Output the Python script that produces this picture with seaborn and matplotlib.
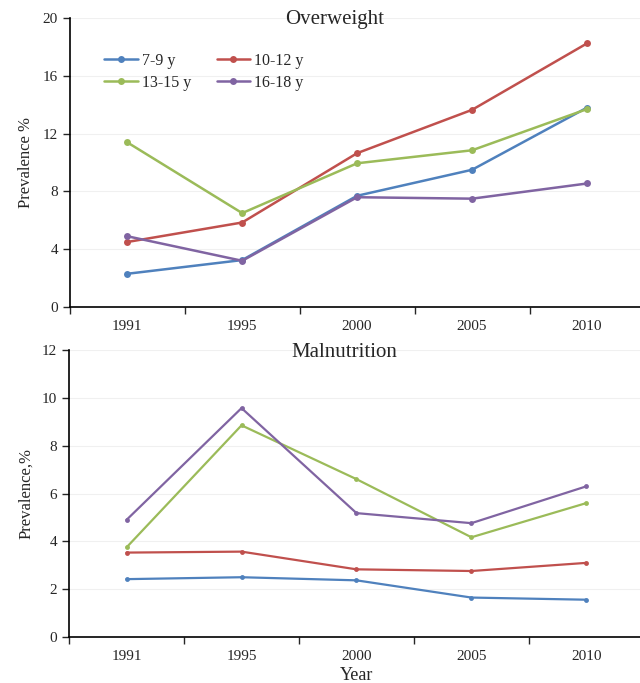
import pandas as pd
import matplotlib
matplotlib.use("Agg")
import matplotlib.pyplot as plt
import seaborn as sns

# ---- data ----
years = ["1991", "1995", "2000", "2005", "2010"]
groups = ["7-9 y", "10-12 y", "13-15 y", "16-18 y"]

over_7_9 = [2.3, 3.25, 7.7, 9.5, 13.8]
over_10_12 = [4.5, 5.85, 10.65, 13.65, 18.25]
over_13_15 = [11.4, 6.5, 9.95, 10.85, 13.7]
over_16_18 = [4.9, 3.2, 7.6, 7.5, 8.55]

mal_7_9 = [2.42, 2.5, 2.37, 1.65, 1.56]
mal_10_12 = [3.53, 3.57, 2.83, 2.76, 3.1]
mal_13_15 = [3.75, 8.85, 6.6, 4.17, 5.6]
mal_16_18 = [4.9, 9.57, 5.18, 4.76, 6.3]

colors = ["#4F81BD", "#C0504D", "#9BBB59", "#8064A2"]


def long_df(series):
    rows = []
    for g, vals in zip(groups, series):
        for i, v in enumerate(vals):
            rows.append({"pos": i, "year": years[i], "group": g, "value": v})
    return pd.DataFrame(rows)


df_over = long_df([over_7_9, over_10_12, over_13_15, over_16_18])
df_mal = long_df([mal_7_9, mal_10_12, mal_13_15, mal_16_18])

sns.set_style("white")
plt.rcParams["font.family"] = ["Liberation Serif", "DejaVu Serif"]

fig = plt.figure(figsize=(6.4, 6.83), dpi=100)
ax1 = fig.add_axes([0.109, 0.5505, 0.898, 0.423])
ax2 = fig.add_axes([0.108, 0.0673, 0.898, 0.4203])


def style_axis(ax, ymax, ystep):
    ax.set_xlim(-0.5, 4.5)
    ax.set_ylim(0, ymax)
    ax.set_xticks(range(len(years)))
    ax.set_xticklabels(years, fontsize=11)
    ax.set_xticks([i - 0.5 for i in range(len(years) + 1)], minor=True)
    ax.tick_params(axis="x", which="major", length=0, pad=9)
    ax.tick_params(axis="x", which="minor", length=5, width=1, direction="out", bottom=True)
    ax.set_yticks(range(0, ymax + 1, ystep))
    ax.tick_params(axis="y", length=5, width=1, direction="out", left=True, labelsize=11)
    ax.yaxis.grid(True, color="#f0f0f0", linewidth=0.8)
    ax.set_axisbelow(True)
    for s in ["top", "right"]:
        ax.spines[s].set_visible(False)
    for s in ["left", "bottom"]:
        ax.spines[s].set_color("black")
        ax.spines[s].set_linewidth(1.2)


# ---- top panel: Overweight ----
sns.lineplot(data=df_over, x="pos", y="value", hue="group", hue_order=groups,
             palette=colors, marker="o", markersize=5, markeredgewidth=0,
             linewidth=1.8, ax=ax1)
style_axis(ax1, 20, 4)
ax1.set_xlabel("")
ax1.set_ylabel("Prevalence %", fontsize=12, labelpad=6)
ax1.text(0.46, 0.995, "Overweight", transform=ax1.transAxes, ha="center",
         va="center", fontsize=15)
h, l = ax1.get_legend_handles_labels()
order = [0, 2, 1, 3]
ax1.legend([h[i] for i in order], [l[i] for i in order], ncol=2, frameon=False,
           loc="upper left", bbox_to_anchor=(0.035, 0.93), fontsize=11.5,
           handlelength=2.1, columnspacing=1.6, handletextpad=0.25,
           labelspacing=0.4)

# ---- bottom panel: Malnutrition ----
sns.lineplot(data=df_mal, x="pos", y="value", hue="group", hue_order=groups,
             palette=colors, marker="o", markersize=3.5, markeredgewidth=0,
             linewidth=1.6, ax=ax2, legend=False)
style_axis(ax2, 12, 2)
ax2.set_xlabel("Year", fontsize=13, labelpad=3)
ax2.set_ylabel("Prevalence,%", fontsize=12, labelpad=6)
ax2.text(0.479, 0.99, "Malnutrition", transform=ax2.transAxes, ha="center",
         va="center", fontsize=15)

fig.savefig("out.png", dpi=100)
